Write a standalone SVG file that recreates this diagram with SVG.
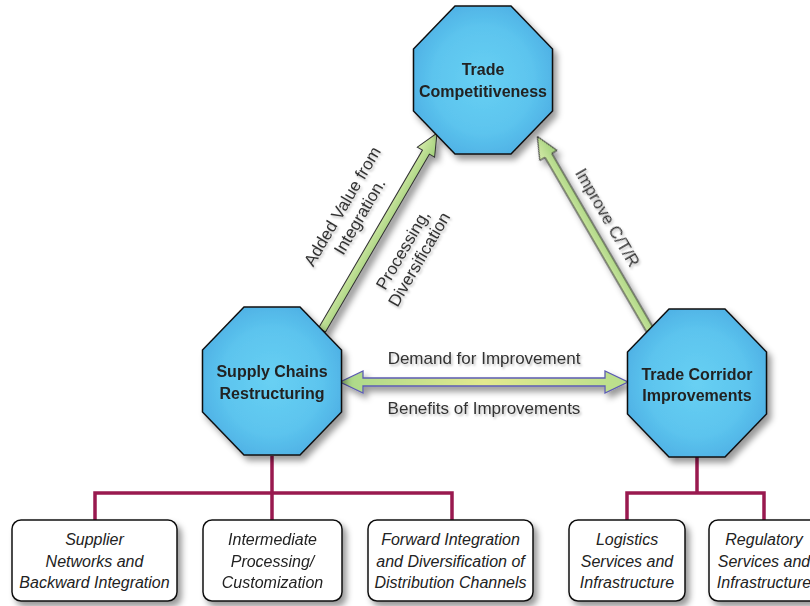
<svg xmlns="http://www.w3.org/2000/svg" xmlns:xlink="http://www.w3.org/1999/xlink" width="810" height="606" viewBox="0 0 810 606">
<defs>
  <radialGradient id="octFill" cx="0.5" cy="0.5" r="0.6">
    <stop offset="0" stop-color="#68d0f3"/>
    <stop offset="0.6" stop-color="#5cc4ee"/>
    <stop offset="1" stop-color="#4aabe2"/>
  </radialGradient>
  <linearGradient id="greenFill" x1="0" y1="0" x2="0" y2="1">
    <stop offset="0" stop-color="#d6ebaa"/>
    <stop offset="1" stop-color="#9fcf78"/>
  </linearGradient>
  <linearGradient id="hFill" x1="0" y1="0" x2="1" y2="0">
    <stop offset="0" stop-color="#a9d88a"/>
    <stop offset="0.5" stop-color="#e2e98e"/>
    <stop offset="1" stop-color="#b8de8c"/>
  </linearGradient>
  <filter id="shadow" x="-20%" y="-20%" width="150%" height="150%">
    <feDropShadow dx="4" dy="5" stdDeviation="3" flood-color="#000" flood-opacity="0.4"/>
  </filter>
  <filter id="tshadow" x="-10%" y="-30%" width="130%" height="180%">
    <feDropShadow dx="1.5" dy="2" stdDeviation="1.2" flood-color="#000" flood-opacity="0.25"/>
  </filter>
  <polygon id="oct" points="-28,-74 28,-74 69.5,-31 69.5,31 28,74 -28,74 -69.5,31 -69.5,-31"/>
  <style>
    .oct { fill: url(#octFill); stroke: #111; stroke-width: 1.5; }
    .ntext { font-family: "Liberation Sans", Arial, sans-serif; font-weight: bold; font-size: 16px; fill: #222; text-anchor: middle; }
    .box { fill: #fff; stroke: #111; stroke-width: 1.5; }
    .btext { font-family: "Liberation Sans", Arial, sans-serif; font-style: italic; font-size: 16px; fill: #222; text-anchor: middle; }
    .ltext { font-family: "Liberation Sans", Arial, sans-serif; font-size: 17px; fill: #333; text-anchor: middle; }
    .tree { fill: none; stroke: #99194f; stroke-width: 3.5; }
    .garrow { fill: url(#greenFill); stroke: #333; stroke-width: 1; }
    .harrow { fill: url(#hFill); stroke: #5c5cb2; stroke-width: 1.3; }
  </style>
</defs>
<rect width="810" height="606" fill="#fff"/>

<g id="connectors">
  <path class="tree" d="M272,456 V493 M95,520 V493 H452 V520 M272,493 V520"/>
  <path class="tree" d="M697,457 V493 M627,520 V493 H764 V520"/>
  <g filter="url(#shadow)">
    <g transform="translate(322,330) rotate(-59.7)">
      <polygon class="garrow" points="0,-4 206,-4 206,-10 228,0 206,10 206,4 0,4"/>
    </g>
    <g transform="translate(650,330) rotate(-120.2)">
      <polygon class="garrow" points="0,-4 202,-4 202,-10 224,0 202,10 202,4 0,4"/>
    </g>
    <polygon class="harrow" points="340,382 363,371 363,378 605,378 605,371 628,382 605,393 605,386 363,386 363,393"/>
  </g>
  <g filter="url(#tshadow)">
    <g transform="translate(322,330) rotate(-59.7)">
      <text class="ltext" x="117" y="-39">Added Value from</text>
      <text class="ltext" x="117" y="-19">Integration.</text>
      <text class="ltext" x="110" y="35">Processing,</text>
      <text class="ltext" x="110" y="54">Diversification</text>
    </g>
    <g transform="translate(537,136) rotate(59.8)">
      <text class="ltext" x="106" y="-14">Improve C/T/R</text>
    </g>
    <text class="ltext" x="484" y="364">Demand for Improvement</text>
    <text class="ltext" x="484" y="414">Benefits of Improvements</text>
  </g>
</g>

<g id="trade-competitiveness">
  <use href="#oct" class="oct" x="483" y="80" filter="url(#shadow)"/>
  <text class="ntext" x="483" y="75">Trade</text>
  <text class="ntext" x="483" y="97">Competitiveness</text>
</g>
<g id="supply-chains">
  <use href="#oct" class="oct" x="272" y="381" filter="url(#shadow)"/>
  <text class="ntext" x="272" y="377">Supply Chains</text>
  <text class="ntext" x="272" y="399">Restructuring</text>
</g>
<g id="trade-corridor">
  <use href="#oct" class="oct" x="697" y="383" filter="url(#shadow)"/>
  <text class="ntext" x="697" y="380">Trade Corridor</text>
  <text class="ntext" x="697" y="401">Improvements</text>
</g>

<g id="box-supplier">
  <rect class="box" x="12" y="520" width="165" height="81" rx="9" filter="url(#shadow)"/>
  <text class="btext" x="94.5" y="545">Supplier</text>
  <text class="btext" x="94.5" y="567">Networks and</text>
  <text class="btext" x="94.5" y="588">Backward Integration</text>
</g>
<g id="box-intermediate">
  <rect class="box" x="203" y="520" width="139" height="81" rx="9" filter="url(#shadow)"/>
  <text class="btext" x="272.5" y="545">Intermediate</text>
  <text class="btext" x="272.5" y="567">Processing/</text>
  <text class="btext" x="272.5" y="588">Customization</text>
</g>
<g id="box-forward">
  <rect class="box" x="368" y="520" width="165" height="81" rx="9" filter="url(#shadow)"/>
  <text class="btext" x="450.5" y="545">Forward Integration</text>
  <text class="btext" x="450.5" y="567">and Diversification of</text>
  <text class="btext" x="450.5" y="588">Distribution Channels</text>
</g>
<g id="box-logistics">
  <rect class="box" x="569" y="520" width="116" height="81" rx="9" filter="url(#shadow)"/>
  <text class="btext" x="627" y="545">Logistics</text>
  <text class="btext" x="627" y="567">Services and</text>
  <text class="btext" x="627" y="588">Infrastructure</text>
</g>
<g id="box-regulatory">
  <rect class="box" x="709" y="520" width="110" height="81" rx="9" filter="url(#shadow)"/>
  <text class="btext" x="764" y="545">Regulatory</text>
  <text class="btext" x="764" y="567">Services and</text>
  <text class="btext" x="764" y="588">Infrastructure</text>
</g>
</svg>
